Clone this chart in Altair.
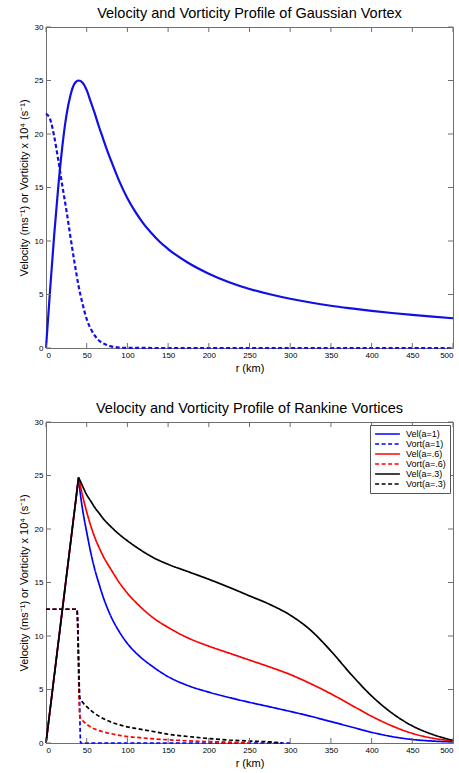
import altair as alt
import pandas as pd

# ---------------- Data ----------------
# Gaussian vortex
g_vel_r = [0, 5, 10, 15, 20, 25, 30, 35, 40, 45, 50, 55, 60, 65, 70, 75, 80, 90, 100,
           110, 120, 130, 140, 150, 175, 200, 225, 250, 275, 300, 325, 350, 375, 400,
           425, 450, 475, 500]
g_vel = [0, 5.4, 10.5, 15.0, 18.8, 21.7, 23.6, 24.7, 25.0, 24.8, 24.1, 23.0, 21.9, 20.7,
         19.6, 18.5, 17.5, 15.6, 14.0, 12.7, 11.6, 10.7, 9.9, 9.25, 7.95, 6.95, 6.15,
         5.52, 5.02, 4.6, 4.25, 3.95, 3.7, 3.47, 3.27, 3.09, 2.93, 2.78]
g_vort_r = [0, 5, 10, 15, 20, 25, 30, 35, 40, 45, 50, 55, 60, 65, 70, 75, 80, 85, 90,
            100, 150, 200, 250, 300, 350, 400, 450, 500]
g_vort = [21.9, 21.4, 19.8, 17.6, 15.2, 12.9, 10.4, 8.0, 5.8, 4.1, 2.7, 1.8, 1.15, 0.7,
          0.45, 0.27, 0.15, 0.08, 0.04, 0.01, 0, 0, 0, 0, 0, 0, 0, 0]

# Rankine vortices: common linear core 0-40 km, then decay
rk_core_r = [0, 40]
rk_core_v = [0, 24.8]
rk_r = [40, 42, 45, 50, 55, 60, 65, 70, 80, 90, 100, 115, 130, 150, 175, 200, 225,
        250, 275, 300, 325, 350, 375, 400, 425, 450, 475, 500]
vel_a1 = [24.8, 23.4, 21.8, 19.7, 17.8, 16.2, 14.9, 13.7, 11.8, 10.4, 9.3, 8.1, 7.2,
          6.2, 5.35, 4.75, 4.25, 3.8, 3.38, 2.95, 2.5, 2.0, 1.5, 1.0, 0.6, 0.33, 0.18, 0.1]
vel_a06 = [24.8, 24.1, 23.1, 21.6, 20.3, 19.2, 18.3, 17.5, 16.2, 15.0, 14.0, 12.8,
           11.8, 10.8, 9.8, 9.05, 8.4, 7.75, 7.1, 6.4, 5.55, 4.6, 3.55, 2.5, 1.6, 0.9,
           0.45, 0.2]
vel_a03 = [24.8, 24.5, 24.0, 23.2, 22.6, 22.0, 21.5, 21.0, 20.2, 19.5, 18.9, 18.1,
           17.4, 16.7, 16.0, 15.3, 14.55, 13.75, 12.95, 11.95, 10.55, 8.6, 6.4, 4.4, 2.8,
           1.6, 0.8, 0.25]

vort_a1_r = [0, 38, 41, 42.5, 100, 200, 300]
vort_a1 = [12.5, 12.5, 5.0, 0, 0, 0, 0]
vort_a06_r = [0, 38, 41.5, 45, 50, 55, 60, 70, 80, 90, 100, 115, 130, 150, 175, 200,
              225, 250]
vort_a06 = [12.5, 12.5, 2.5, 2.1, 1.75, 1.5, 1.3, 1.05, 0.87, 0.72, 0.6, 0.5, 0.4, 0.3,
            0.2, 0.13, 0.08, 0.0]
vort_a03_r = [0, 38, 41.5, 45, 50, 55, 60, 70, 80, 90, 100, 115, 130, 150, 175, 200,
              225, 250, 275, 290]
vort_a03 = [12.5, 12.5, 4.2, 3.8, 3.4, 3.05, 2.75, 2.3, 1.95, 1.7, 1.5, 1.3, 1.1, 0.82,
            0.6, 0.42, 0.28, 0.18, 0.1, 0.0]

series_names = ["Vel(a=1)", "Vort(a=1)", "Vel(a=.6)", "Vort(a=.6)", "Vel(a=.3)", "Vort(a=.3)"]
series_colors = ["#0000ff", "#0000ff", "#ff0000", "#ff0000", "#000000", "#000000"]
series_dash = [[1, 0], [4, 2.5], [1, 0], [4, 2.5], [1, 0], [4, 2.5]]

x_ticks = [0, 50, 100, 150, 200, 250, 300, 350, 400, 450, 500]
y_ticks = [0, 5, 10, 15, 20, 25, 30]

# ---------------- Build tables ----------------
gauss_vel_df = pd.DataFrame({"r": g_vel_r, "v": g_vel})
gauss_vort_df = pd.DataFrame({"r": g_vort_r, "v": g_vort})

rows = []


def add(name, seg, rr, vv):
    for r_, v_ in zip(rr, vv):
        rows.append({"series": name, "seg": name + seg, "r": r_, "v": v_,
                     "k": series_names.index(name)})


for name, vv in [("Vel(a=1)", vel_a1), ("Vel(a=.6)", vel_a06), ("Vel(a=.3)", vel_a03)]:
    add(name, "core", rk_core_r, rk_core_v)
    add(name, "outer", rk_r, vv)
add("Vort(a=1)", "all", vort_a1_r, vort_a1)
add("Vort(a=.6)", "all", vort_a06_r, vort_a06)
add("Vort(a=.3)", "all", vort_a03_r, vort_a03)
rk_df = pd.DataFrame(rows).sort_values(["k", "r"])

xt_df = pd.DataFrame({"r": x_ticks})
yt_df = pd.DataFrame({"v": y_ticks})

W, H = 407, 321
FRAME = "#6e6e6e"
FONT = "Liberation Sans"
XTITLE = "r (km)"
YTITLE = "Velocity (ms\u207b\u00b9) or Vorticity x 10\u2074 (s\u207b\u00b9)"

xscale = alt.Scale(domain=[0, 500], nice=False, zero=False)
yscale = alt.Scale(domain=[0, 30], nice=False)
xaxis = alt.Axis(values=x_ticks, title=XTITLE)
yaxis = alt.Axis(values=y_ticks, title=YTITLE)
XENC = alt.X("r:Q", scale=xscale, axis=xaxis)
YENC = alt.Y("v:Q", scale=yscale, axis=yaxis)


def tick_layers():
    bottom = alt.Chart(xt_df).mark_rule(color=FRAME, strokeWidth=1).encode(
        x=XENC, y=alt.value(H), y2=alt.value(H - 5))
    top = alt.Chart(xt_df).mark_rule(color=FRAME, strokeWidth=1).encode(
        x=XENC, y=alt.value(0), y2=alt.value(5))
    left = alt.Chart(yt_df).mark_rule(color=FRAME, strokeWidth=1).encode(
        y=YENC, x=alt.value(0), x2=alt.value(5))
    right = alt.Chart(yt_df).mark_rule(color=FRAME, strokeWidth=1).encode(
        y=YENC, x=alt.value(W), x2=alt.value(W - 5))
    return [bottom, top, left, right]


# ---------------- Top panel ----------------
top_vel = alt.Chart(gauss_vel_df).mark_line(color="#1010e6", strokeWidth=2.2,
                                            interpolate="monotone").encode(
    x=XENC, y=YENC)
top_vort = alt.Chart(gauss_vort_df).mark_line(color="#1010e6", strokeWidth=2.2,
                                              strokeDash=[4, 2.5],
                                              interpolate="monotone").encode(
    x=XENC, y=YENC)
top_panel = alt.layer(top_vel, top_vort, *tick_layers()).properties(
    width=W, height=H,
    title=alt.TitleParams("Velocity and Vorticity Profile of Gaussian Vortex",
                          fontSize=14.5, font=FONT, fontWeight="normal", offset=2),
)

# ---------------- Bottom panel ----------------
bot_lines = alt.Chart(rk_df).mark_line(strokeWidth=1.7, interpolate="monotone").encode(
    x=XENC, y=YENC,
    color=alt.Color("series:N",
                    scale=alt.Scale(domain=series_names, range=series_colors),
                    legend=alt.Legend(title=None, orient="top-right", offset=3,
                                      symbolType="M-3.1,0H3.1", symbolStrokeWidth=1.7,
                                      symbolSize=64, symbolOffset=8.5,
                                      labelFontSize=9, labelFont=FONT,
                                      rowPadding=0, fillColor="white",
                                      strokeColor="#555555", padding=4,
                                      labelOffset=13.5)),
    strokeDash=alt.StrokeDash("series:N",
                              scale=alt.Scale(domain=series_names, range=series_dash),
                              legend=alt.Legend(title=None, orient="top-right")),
    detail=alt.Detail("seg:N"),
    order=alt.Order("r:Q"),
)
bot_panel = alt.layer(bot_lines, *tick_layers()).properties(
    width=W, height=H,
    title=alt.TitleParams("Velocity and Vorticity Profile of Rankine Vortices",
                          fontSize=14.5, font=FONT, fontWeight="normal", offset=2),
)

chart = alt.vconcat(top_panel, bot_panel, spacing=26).resolve_scale(
    color="independent", strokeDash="independent"
).resolve_legend(color="independent", strokeDash="independent").properties(
    padding={"left": 17, "top": 5, "right": 0, "bottom": 0},
    background="white",
).configure_view(stroke=FRAME, strokeWidth=1).configure_axis(
    domain=False, ticks=False, grid=False,
    labelFont=FONT, labelFontSize=8, labelColor="black", labelPadding=3,
    titleFont=FONT, titleFontSize=11, titleFontWeight="normal", titleColor="black",
).configure_axisX(titlePadding=3).configure_axisY(titlePadding=5)

chart.save("out.html", embed_options={"renderer": "svg", "actions": False})
